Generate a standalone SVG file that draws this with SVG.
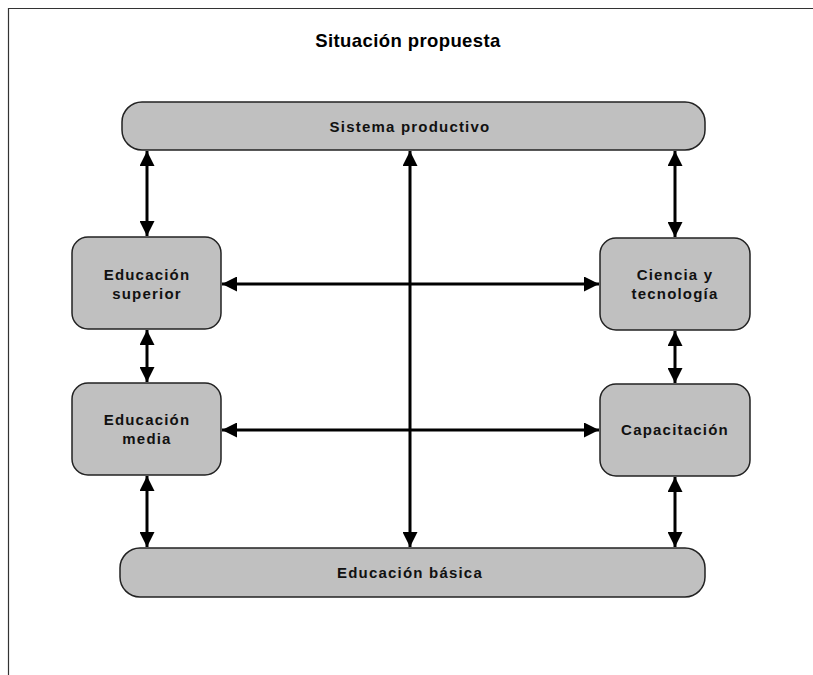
<svg xmlns="http://www.w3.org/2000/svg" width="813" height="675" viewBox="0 0 813 675">
<style>
.box{fill:#c0c0c0;stroke:#222;stroke-width:1.5}
.lbl{font-family:"Liberation Sans",Arial,sans-serif;font-weight:bold;font-size:15px;letter-spacing:1.2px;fill:#111;text-anchor:middle}
.ttl{font-family:"Liberation Sans",Arial,sans-serif;font-weight:bold;font-size:18.5px;letter-spacing:0.4px;fill:#000;text-anchor:middle}
.con{stroke:#000;stroke-width:3;fill:none;marker-start:url(#ah);marker-end:url(#ah)}
</style>
<defs>
<marker id="ah" viewBox="0 0 10 10" refX="10" refY="5" markerWidth="5.5" markerHeight="5" orient="auto-start-reverse" markerUnits="strokeWidth">
<path d="M0,0 L10,5 L0,10 Z" fill="#000"/>
</marker>
</defs>
<rect width="813" height="675" fill="#fff"/>
<path d="M8.5,675 V8.5 H813" fill="none" stroke="#333" stroke-width="1.2"/>
<text class="ttl" x="408" y="47">Situación propuesta</text>
<g id="sistema-productivo">
<rect class="box" x="122" y="102" width="583" height="48" rx="20" ry="20"/>
<text class="lbl" x="410" y="132">Sistema productivo</text>
</g>
<g id="educacion-basica">
<rect class="box" x="120" y="548" width="585" height="49" rx="20" ry="20"/>
<text class="lbl" x="410" y="578">Educación básica</text>
</g>
<g id="educacion-superior">
<rect class="box" x="72" y="237" width="149" height="92" rx="16" ry="16"/>
<text class="lbl" x="147" y="280">Educación</text>
<text class="lbl" x="147" y="299">superior</text>
</g>
<g id="educacion-media">
<rect class="box" x="72" y="383" width="149" height="92" rx="16" ry="16"/>
<text class="lbl" x="147" y="425">Educación</text>
<text class="lbl" x="147" y="444">media</text>
</g>
<g id="ciencia-tecnologia">
<rect class="box" x="600" y="238" width="150" height="92" rx="16" ry="16"/>
<text class="lbl" x="675" y="280">Ciencia y</text>
<text class="lbl" x="675" y="299">tecnología</text>
</g>
<g id="capacitacion">
<rect class="box" x="600" y="384" width="150" height="92" rx="16" ry="16"/>
<text class="lbl" x="675" y="435">Capacitación</text>
</g>
<g id="connectors">
<line class="con" x1="147" y1="151" x2="147" y2="236"/>
<line class="con" x1="147" y1="330" x2="147" y2="382"/>
<line class="con" x1="147" y1="476" x2="147" y2="547"/>
<line class="con" x1="675" y1="151" x2="675" y2="237"/>
<line class="con" x1="675" y1="331" x2="675" y2="383"/>
<line class="con" x1="675" y1="477" x2="675" y2="547"/>
<line class="con" x1="410" y1="151" x2="410" y2="547"/>
<line class="con" x1="222" y1="284" x2="599" y2="284"/>
<line class="con" x1="222" y1="430" x2="599" y2="430"/>
</g>
</svg>
